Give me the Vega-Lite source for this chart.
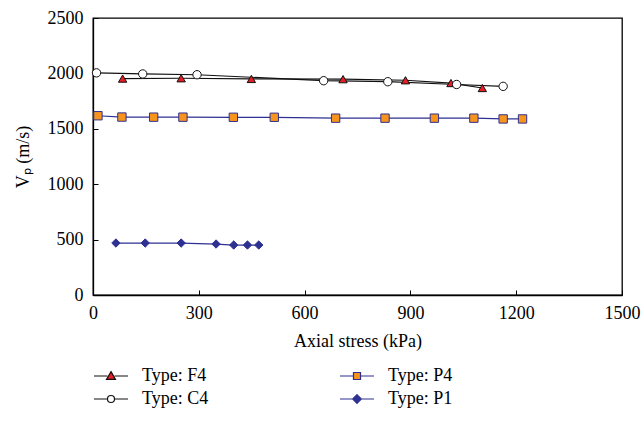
{
  "$schema": "https://vega.github.io/schema/vega-lite/v6.json",
  "width": 529,
  "height": 277,
  "autosize": {"type": "none"},
  "padding": {"left": 93, "top": 18, "right": 21, "bottom": 138},
  "background": "white",
  "config": {
    "font": "Liberation Serif",
    "view": {"stroke": "black", "strokeWidth": 1.3},
    "axis": {
      "domainColor": "black", "domainWidth": 1.3, "tickColor": "black", "tickSize": -5,
      "grid": false, "labelFlush": false, "labelFont": "Liberation Serif", "labelFontSize": 18, "labelColor": "black",
      "titleFont": "Liberation Serif", "titleFontSize": 18, "titleFontWeight": "normal", "titleColor": "black"
    },
    "legend": {"labelFont": "Liberation Serif", "labelFontSize": 18, "labelColor": "black"}
  },
  "data": {"values": [
    {"type": "Type: F4", "stress": 84, "vp": 1953},
    {"type": "Type: F4", "stress": 250, "vp": 1956},
    {"type": "Type: F4", "stress": 449, "vp": 1950},
    {"type": "Type: F4", "stress": 709, "vp": 1948},
    {"type": "Type: F4", "stress": 886, "vp": 1938},
    {"type": "Type: F4", "stress": 1015, "vp": 1913},
    {"type": "Type: F4", "stress": 1104, "vp": 1868},
    {"type": "Type: C4", "stress": 10, "vp": 2005},
    {"type": "Type: C4", "stress": 141, "vp": 1995},
    {"type": "Type: C4", "stress": 295, "vp": 1988},
    {"type": "Type: C4", "stress": 654, "vp": 1934},
    {"type": "Type: C4", "stress": 836, "vp": 1925},
    {"type": "Type: C4", "stress": 1031, "vp": 1900},
    {"type": "Type: C4", "stress": 1163, "vp": 1883},
    {"type": "Type: P4", "stress": 14, "vp": 1618},
    {"type": "Type: P4", "stress": 82, "vp": 1606},
    {"type": "Type: P4", "stress": 172, "vp": 1605},
    {"type": "Type: P4", "stress": 255, "vp": 1605},
    {"type": "Type: P4", "stress": 398, "vp": 1604},
    {"type": "Type: P4", "stress": 514, "vp": 1604},
    {"type": "Type: P4", "stress": 688, "vp": 1596},
    {"type": "Type: P4", "stress": 828, "vp": 1596},
    {"type": "Type: P4", "stress": 968, "vp": 1596},
    {"type": "Type: P4", "stress": 1080, "vp": 1596},
    {"type": "Type: P4", "stress": 1163, "vp": 1589},
    {"type": "Type: P4", "stress": 1218, "vp": 1589},
    {"type": "Type: P1", "stress": 65, "vp": 469},
    {"type": "Type: P1", "stress": 148, "vp": 469},
    {"type": "Type: P1", "stress": 250, "vp": 469},
    {"type": "Type: P1", "stress": 349, "vp": 460},
    {"type": "Type: P1", "stress": 399, "vp": 451},
    {"type": "Type: P1", "stress": 438, "vp": 451},
    {"type": "Type: P1", "stress": 470, "vp": 451}
  ]},
  "encoding": {
    "x": {"field": "stress", "type": "quantitative", "title": "Axial stress (kPa)",
      "scale": {"domain": [0, 1500], "nice": false},
      "axis": {"values": [0, 300, 600, 900, 1200, 1500], "format": "d", "labelPadding": 14, "titlePadding": 10}},
    "y": {"field": "vp", "type": "quantitative", "title": "Vₚ (m/s)",
      "scale": {"domain": [0, 2500], "nice": false},
      "axis": {"values": [0, 500, 1000, 1500, 2000, 2500], "format": "d", "labelPadding": 15, "titlePadding": 15}}
  },
  "layer": [
    {
      "mark": {"type": "line", "strokeWidth": 1.2},
      "encoding": {
        "detail": {"field": "type"},
        "stroke": {"field": "type", "type": "nominal", "legend": null,
          "scale": {"range": ["#111111", "#111111", "#2e3192", "#2e3192"]}}
      }
    },
    {
      "mark": {"type": "point", "filled": true, "size": 70, "strokeWidth": 1},
      "encoding": {
        "shape": {"field": "type", "type": "nominal", "legend": null,
          "scale": {"range": ["circle", "triangle-up", "diamond", "square"]}},
        "fill": {"field": "type", "type": "nominal", "legend": null,
          "scale": {"range": ["#ffffff", "#e31e24", "#2e3192", "#f7941d"]}},
        "stroke": {"field": "type", "type": "nominal", "legend": null},
        "opacity": {"field": "type", "type": "nominal", "title": null,
          "scale": {"type": "ordinal", "domain": ["Type: F4", "Type: C4", "Type: P4", "Type: P1"], "range": [1, 1, 1, 1]},
          "legend": {
            "orient": "none", "legendX": 9, "legendY": 349, "columns": 2, "columnPadding": 128,
            "rowPadding": 5, "symbolSize": 256, "labelOffset": 22, "symbolStrokeWidth": 1.2,
            "symbolType": {"expr": "datum.value == 'Type: F4' ? 'M-2.125,0H-0.45M0.45,0H2.125M0,-0.55L0.56,0.42L-0.56,0.42Z' : datum.value == 'Type: P4' ? 'M-2.125,0H-0.44M0.44,0H2.125M-0.44,-0.44H0.44V0.44H-0.44Z' : datum.value == 'Type: C4' ? 'M-2.125,0H-0.44M0.44,0H2.125M0.44,0A0.44,0.44 0 1,1 -0.44,0A0.44,0.44 0 1,1 0.44,0Z' : 'M-2.125,0H-0.54M0.54,0H2.125M0,-0.54L0.54,0L0,0.54L-0.54,0Z'"},
            "symbolFillColor": {"expr": "datum.value == 'Type: F4' ? '#e31e24' : datum.value == 'Type: P4' ? '#f7941d' : datum.value == 'Type: C4' ? '#ffffff' : '#2e3192'"},
            "symbolStrokeColor": {"expr": "datum.value == 'Type: F4' || datum.value == 'Type: C4' ? '#111111' : '#2e3192'"}
          }}
      }
    }
  ]
}
